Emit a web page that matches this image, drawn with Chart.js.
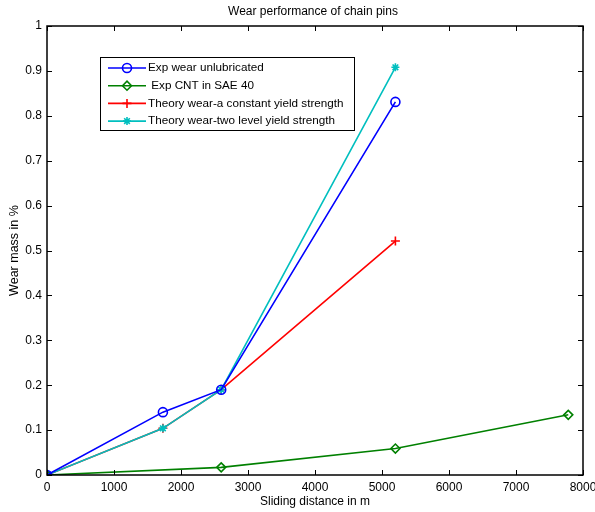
<!DOCTYPE html>
<html>
<head>
<meta charset="utf-8">
<script src="https://cdn.jsdelivr.net/npm/chart.js@4"></script>
<style>
  html, body { margin: 0; padding: 0; background: #fff; }
  #wrap { width: 595px; height: 512px; }
</style>
</head>
<body>
<div id="wrap"><canvas id="c" width="595" height="512"></canvas></div>
<script>
// data
const distExp = [0, 1730, 2600, 5200];
const wearUnlub = [0, 0.14, 0.19, 0.831];
const distCnt = [0, 2600, 5200, 7780];
const wearCnt = [0, 0.017, 0.059, 0.134];
const distTheory = [0, 1730, 2600, 5200];
const wearConst = [0, 0.104, 0.19, 0.521];
const wearTwoLevel = [0, 0.104, 0.19, 0.908];

const seriesNames = ['Exp wear unlubricated', ' Exp CNT in SAE 40',
  'Theory wear-a constant yield strength', 'Theory wear-two level yield strength'];
const xTicks = [0, 1000, 2000, 3000, 4000, 5000, 6000, 7000, 8000];
const yTicks = [0, 0.1, 0.2, 0.3, 0.4, 0.5, 0.6, 0.7, 0.8, 0.9, 1];

const FONT = 'Liberation Sans, Arial, sans-serif';
const NONE = 'rgba(0,0,0,0)';

function pts(xs, ys) { return xs.map((x, i) => ({x: x, y: ys[i]})); }

const datasets = [
  {label: seriesNames[0], data: pts(distExp, wearUnlub), borderColor: '#0000ff',
   pointStyle: 'circle', pointRadius: 4.5, backgroundColor: NONE, order: 0},
  {label: seriesNames[1], data: pts(distCnt, wearCnt), borderColor: '#008000',
   pointStyle: 'rectRot', pointRadius: 4.5, backgroundColor: NONE, order: 0},
  {label: seriesNames[2], data: pts(distTheory, wearConst), borderColor: '#ff0000',
   pointStyle: 'cross', pointRadius: 4.5, backgroundColor: '#ff0000', order: 2},
  {label: seriesNames[3], data: pts(distTheory, wearTwoLevel), borderColor: '#00bfbf',
   pointStyle: 'star', pointRadius: 4, backgroundColor: '#00bfbf', order: 1}
];
datasets.forEach(d => {
  d.showLine = true;
  d.borderWidth = 1.6;
  d.pointBorderWidth = 1.6;
  d.pointBorderColor = d.borderColor;
  d.pointBackgroundColor = d.backgroundColor;
  d.tension = 0;
});

// box, inward ticks, title and legend, matlab style
const frame = {
  id: 'frame',
  afterDraw(chart) {
    const ctx = chart.ctx, a = chart.chartArea;
    const xs = chart.scales.x, ys = chart.scales.y;
    ctx.save();
    ctx.strokeStyle = '#000';
    ctx.lineWidth = 1;
    ctx.beginPath();
    xTicks.forEach(t => {
      const px = Math.round(xs.getPixelForValue(t)) + 0.5;
      ctx.moveTo(px, a.bottom); ctx.lineTo(px, a.bottom - 5);
      ctx.moveTo(px, a.top); ctx.lineTo(px, a.top + 5);
    });
    yTicks.forEach(t => {
      const py = Math.round(ys.getPixelForValue(t)) + 0.5;
      ctx.moveTo(a.left, py); ctx.lineTo(a.left + 5, py);
      ctx.moveTo(a.right, py); ctx.lineTo(a.right - 5, py);
    });
    ctx.stroke();
    ctx.lineWidth = 1.5;
    ctx.strokeRect(a.left, a.top, a.right - a.left, a.bottom - a.top);

    ctx.fillStyle = '#000';
    ctx.font = '12px ' + FONT;
    ctx.textAlign = 'center';
    ctx.textBaseline = 'middle';
    ctx.fillText('Wear performance of chain pins', (a.left + a.right) / 2 - 2, 12);

    // legend
    const lx = 100, ly = 57, lw = 254, lh = 73;
    ctx.fillStyle = '#fff';
    ctx.fillRect(lx, ly, lw, lh);
    ctx.lineWidth = 1;
    ctx.strokeStyle = '#000';
    ctx.strokeRect(lx + 0.5, ly + 0.5, lw, lh);
    ctx.font = '11.7px ' + FONT;
    ctx.textAlign = 'left';
    chart.data.datasets.forEach((d, i) => {
      const y = ly + 11 + i * 17.7;
      ctx.strokeStyle = d.borderColor;
      ctx.lineWidth = 1.6;
      ctx.beginPath();
      ctx.moveTo(lx + 8, y); ctx.lineTo(lx + 46, y);
      ctx.stroke();
      ctx.fillStyle = d.backgroundColor;
      Chart.helpers.drawPoint(ctx, {pointStyle: d.pointStyle, radius: d.pointRadius,
        borderWidth: 1.6, rotation: 0}, lx + 27, y);
      ctx.fillStyle = '#000';
      ctx.fillText(d.label, lx + 48, y);
    });
    ctx.restore();
  }
};

new Chart(document.getElementById('c'), {
  type: 'scatter',
  data: {datasets: datasets},
  options: {
    responsive: false,
    animation: false,
    layout: {padding: {top: 26, right: 12, left: 0, bottom: 0}},
    plugins: {legend: {display: false}, title: {display: false}, tooltip: {enabled: false}},
    scales: {
      x: {
        type: 'linear', min: 0, max: 8000,
        afterFit: s => { s.height = 37; },
        afterBuildTicks: s => { s.ticks = xTicks.map(v => ({value: v})); },
        grid: {display: false},
        border: {display: false},
        ticks: {color: '#000', font: {family: FONT, size: 12}, padding: -3, maxRotation: 0,
                callback: v => String(v)},
        title: {display: true, text: 'Sliding distance in m', color: '#000',
                font: {family: FONT, size: 12}, padding: {top: 0, bottom: 3}}
      },
      y: {
        type: 'linear', min: 0, max: 1,
        afterFit: s => { s.width = 47; },
        afterBuildTicks: s => { s.ticks = yTicks.map(v => ({value: v})); },
        grid: {display: false},
        border: {display: false},
        ticks: {color: '#000', font: {family: FONT, size: 12}, padding: -3,
                callback: v => String(Number(v.toFixed(1)))},
        title: {display: true, text: 'Wear mass in %', color: '#000',
                font: {family: FONT, size: 12.5}, padding: {top: 7, bottom: 0}}
      }
    }
  },
  plugins: [frame]
});
</script>
</body>
</html>
